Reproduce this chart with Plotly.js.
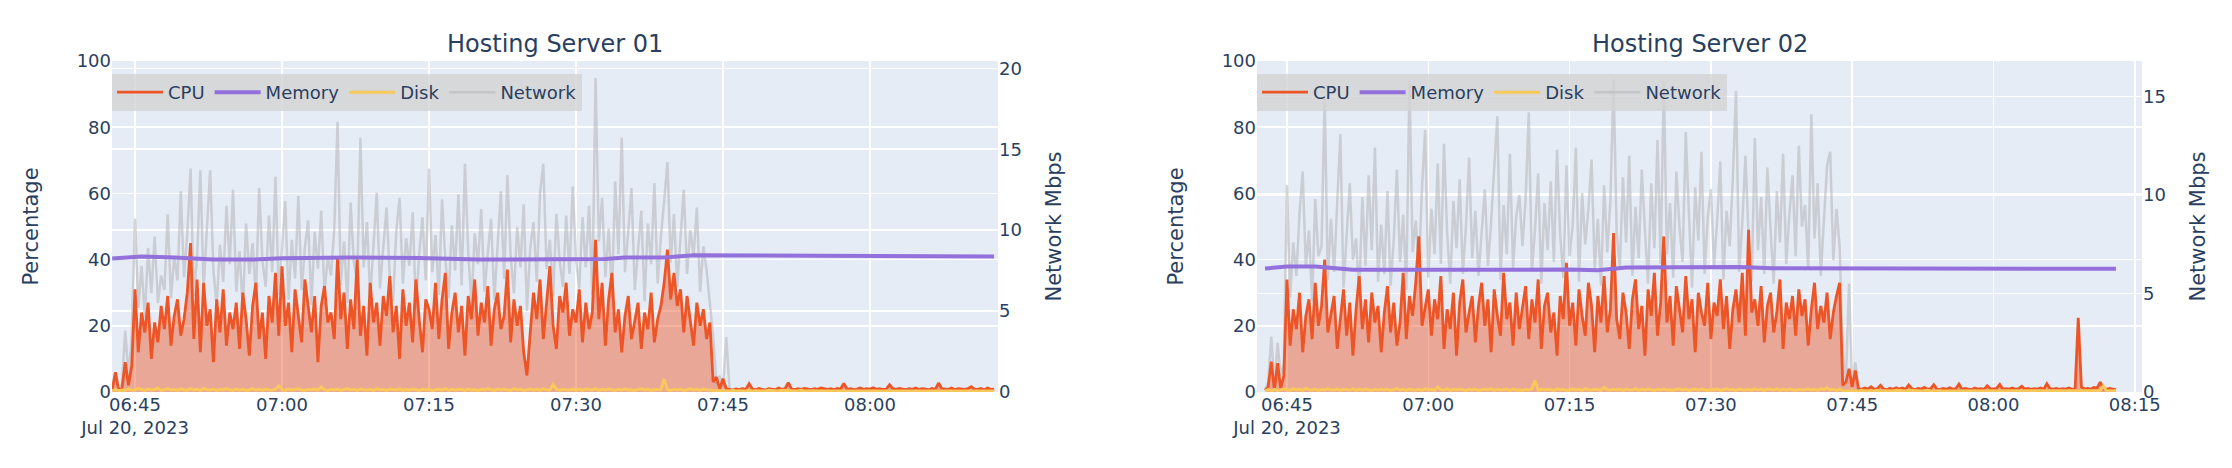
<!DOCTYPE html>
<html>
<head>
<meta charset="utf-8">
<script src="https://cdn.plot.ly/plotly-3.0.1.min.js"></script>
<style>html,body{margin:0;padding:0;background:#fff;}#chart{width:2232px;height:468px;}</style>
</head>
<body>
<div id="chart"></div>
<script>
// ---------------- DATA ----------------
// Samples every 20 s. Server 01 starts 06:42:40 and ends 08:12:40; Server 02 starts 06:42:40 and ends 08:13:00.
const day = "2023-07-20";
const startTime = "06:42:40";
const stepSeconds = 20;

// Server 01 CPU (%), one row = 5 minutes (first row 06:42:40-06:44:40)
const cpu1 = [
  0.5, 6, 0.5, 1, 9, 2, 8,
  31, 12, 24, 18, 27, 10, 21, 15, 26, 19, 29, 14, 23, 28, 17,
  22, 30, 45, 16, 34, 12, 33, 20, 25, 9, 28, 18, 31, 14, 24,
  19, 27, 13, 30, 22, 11, 26, 33, 16, 24, 10, 29, 21, 36, 17,
  38, 20, 27, 12, 31, 23, 15, 34, 25, 18, 29, 9, 26, 32, 21,
  24, 16, 41, 22, 30, 13, 28, 19, 40, 17, 26, 11, 33, 21, 27,
  14, 29, 23, 35, 18, 26, 10, 31, 20, 27, 15, 34, 22, 12, 28,
  25, 19, 33, 16, 28, 36, 13, 24, 30, 18, 26, 11, 29, 22, 34,
  17, 27, 21, 32, 14, 25, 30, 19, 23, 37, 15, 28, 20, 26, 12,
  5, 18, 30, 22, 34, 16, 26, 38, 20, 13, 29, 24, 33, 17, 25,
  21, 31, 15, 27, 19, 24, 46, 22, 33, 14, 28, 36, 18, 25, 12,
  23, 29, 16, 21, 27, 13, 24, 19, 30, 15, 22, 26, 33, 43, 28,
  36, 26, 31, 18, 29, 22, 14, 27, 20, 25, 16, 21, 3, 4.5, 1,
  4, 1, 0.8, 0.6, 0.9, 0.7, 1, 0.8, 2.5, 0.9, 0.7, 1.1, 0.8, 0.6, 1,
  0.9, 0.7, 1.2, 0.8, 1, 2.8, 0.9, 0.7, 1, 0.8, 1.1, 0.9, 0.7, 1, 0.8,
  1.2, 0.9, 0.8, 1, 0.7, 1.1, 0.9, 2.6, 0.8, 1, 0.7, 0.9, 1.2, 0.8, 1,
  0.9, 1.3, 0.8, 1, 0.7, 0.9, 2.2, 1, 0.8, 1.1, 0.9, 0.7, 1, 0.8, 1.2,
  0.8, 1, 0.9, 0.7, 1.1, 0.8, 2.7, 1, 0.9, 0.8, 1.2, 0.7, 1, 0.9, 0.8,
  1, 1.6, 0.9, 0.8, 1.1, 0.7, 1.2, 0.8, 0.9
];

// Server 01 Network (Mbps)
const net1 = [
  0.1, 1.2, 0.2, 0.5, 3.8, 1, 3.5,
  10.7, 5.2, 7.8, 4.6, 8.9, 6.1, 9.6, 5.5, 7.2, 6.3, 11.0, 5.8, 8.4, 6.9, 12.4,
  7.1, 9.8, 13.8, 5.9, 8.3, 13.7, 6.4, 10.2, 13.7, 7.5, 5.3, 9.1, 6.8, 11.5, 7.9,
  12.5, 6.2, 8.7, 5.1, 10.4, 7.3, 9.2, 5.8, 12.6, 8.1, 6.5, 10.9, 7.4, 13.3, 6.0,
  8.6, 11.8, 5.7, 9.4, 7.0, 12.1, 6.3, 8.9, 10.6, 5.4, 9.9, 7.6, 11.2, 6.1, 8.3,
  7.2, 10.1, 16.7, 6.6, 9.3, 5.5, 11.7, 8.0, 6.8, 15.7, 7.7, 10.5, 5.9, 9.0, 12.3,
  6.4, 8.8, 11.4, 7.1, 5.6, 10.0, 12.0, 6.7, 9.5, 7.8, 11.1, 5.2, 8.5, 10.8, 6.9,
  13.8, 7.4, 9.7, 6.0, 11.9, 8.2, 5.8, 10.3, 7.5, 12.2, 6.6, 14.1, 8.7, 5.4, 9.8,
  7.9, 11.3, 6.2, 8.6, 10.7, 5.7, 9.1, 12.4, 7.0, 13.4, 8.4, 6.1, 10.2, 7.7, 11.6,
  5.0, 8.9, 10.5, 6.8, 12.3, 14.1, 7.6, 9.4, 5.9, 11.0, 8.1, 6.5, 10.9, 7.3, 12.7,
  8.2, 6.4, 10.8, 7.7, 11.5, 6.0, 19.4, 9.3, 12.0, 7.1, 10.1, 5.8, 13.0, 8.5, 15.7,
  7.4, 9.9, 12.6, 6.3, 8.8, 11.2, 5.6, 10.4, 7.9, 12.9, 6.7, 9.6, 11.8, 14.2, 8.0,
  11.0, 6.5, 9.2, 12.5, 7.3, 10.0, 8.4, 11.4, 6.2, 9.0, 7.5, 5.4, 3.4, 0.5, 1.0,
  0.3, 3.4, 0.2, 0.1, 0.1, 0.05, 0.1, 0.05, 0.1, 0.05, 0.1, 0.05, 0.1, 0.05, 0.1,
  0.05, 0.1, 0.05, 0.1, 0.05, 0.1, 0.05, 0.1, 0.05, 0.1, 0.05, 0.1, 0.05, 0.1, 0.05,
  0.1, 0.05, 0.1, 0.05, 0.1, 0.05, 0.1, 0.05, 0.1, 0.05, 0.1, 0.05, 0.1, 0.05, 0.1,
  0.05, 0.1, 0.05, 0.1, 0.05, 0.1, 0.05, 0.1, 0.05, 0.1, 0.05, 0.1, 0.05, 0.1, 0.05,
  0.1, 0.05, 0.1, 0.05, 0.1, 0.05, 0.1, 0.05, 0.1, 0.05, 0.1, 0.05, 0.1, 0.05, 0.1,
  0.05, 0.1, 0.05, 0.1, 0.05, 0.1, 0.05, 0.1, 0.05
];

// Server 01 Disk (%)
const disk1 = [
  0.3, 0.8, 0.4, 0.6, 0.5, 0.9, 0.6,
  0.6, 1.1, 0.7, 0.5, 0.9, 0.6, 0.8, 1.2, 0.5, 0.7, 1.0, 0.6, 0.8, 0.5, 0.9,
  0.7, 0.5, 1.0, 0.6, 0.8, 0.5, 1.1, 0.7, 0.6, 0.9, 0.5, 0.8, 0.6, 1.0, 0.7,
  0.5, 0.9, 0.6, 0.8, 0.5, 0.7, 1.0, 0.6, 0.8, 0.5, 0.9, 0.7, 0.6, 0.8, 1.8,
  0.7, 0.5, 0.9, 0.6, 0.8, 1.0, 0.6, 0.5, 0.8, 0.7, 0.9, 0.6, 1.5, 0.7, 0.5,
  0.8, 0.6, 0.9, 0.5, 0.7, 1.0, 0.6, 0.8, 0.5, 0.9, 0.7, 0.6, 0.8, 0.5, 1.0,
  0.6, 0.8, 0.5, 0.9, 0.7, 0.6, 1.0, 0.5, 0.8, 0.6, 0.9, 0.7, 0.5, 0.8, 0.6,
  0.9, 0.5, 0.7, 0.8, 0.6, 1.0, 0.5, 0.9, 0.6, 0.7, 0.8, 0.5, 0.9, 0.6, 0.7,
  0.5, 0.8, 0.6, 1.0, 0.7, 0.5, 0.9, 0.6, 0.8, 0.7, 0.5, 1.0, 0.6, 0.8, 0.5,
  0.7, 0.9, 0.6, 0.8, 0.5, 1.0, 0.7, 0.6, 2.3, 0.8, 0.5, 0.9, 0.7, 0.6, 0.8,
  0.6, 0.8, 0.5, 0.9, 0.7, 0.6, 1.0, 0.5, 0.8, 0.6, 0.9, 0.7, 0.5, 0.8, 0.6,
  0.9, 0.6, 0.7, 0.5, 0.8, 1.0, 0.6, 0.9, 0.5, 0.7, 0.8, 0.6, 3.9, 0.7, 0.5,
  0.8, 0.6, 0.9, 0.5, 0.7, 1.0, 0.6, 0.8, 0.5, 0.9, 0.7, 0.6, 0.4, 0.3, 0.4,
  0.3, 0.4, 0.3, 0.5, 0.3, 0.4, 0.3, 0.3, 0.5, 0.3, 0.4, 0.3, 0.4, 0.3, 0.5,
  0.4, 0.3, 0.3, 0.5, 0.4, 0.3, 0.4, 0.3, 0.3, 0.5, 0.3, 0.4, 0.3, 0.4, 0.3,
  0.3, 0.5, 0.4, 0.3, 0.3, 0.4, 0.5, 0.3, 0.4, 0.3, 0.3, 0.5, 0.4, 0.3, 0.4,
  0.5, 0.3, 0.4, 0.3, 0.5, 0.3, 0.3, 0.4, 0.3, 0.5, 0.4, 0.3, 0.3, 0.4, 0.3,
  0.3, 0.4, 0.3, 0.5, 0.3, 0.4, 0.3, 0.3, 0.5, 0.4, 0.3, 0.4, 0.3, 0.5, 0.3,
  0.4, 0.3, 0.5, 0.3, 0.4, 0.3, 0.3, 0.4, 0.3
];

// Server 01 Memory (%), slowly varying, read at these times
const memTimes1 = ["06:42:40", "06:45:40", "06:49:00", "06:53:00", "06:57:00", "07:00:00", "07:07:00", "07:14:00",
                   "07:20:00", "07:28:00", "07:33:00", "07:35:00", "07:39:00", "07:42:00", "07:50:00", "07:55:00", "08:12:40"];
const mem1 = [40.3, 40.9, 40.6, 40.0, 40.0, 40.4, 40.6, 40.5, 40.0, 40.0, 40.2, 40.6, 40.6, 41.3, 41.2, 41.0, 40.9];

// Server 02 CPU (%)
const cpu2 = [
  0.5, 1.5, 9.2, 0.5, 8.7, 1, 5,
  34, 14, 25, 19, 30, 12, 23, 28, 16, 33, 20, 26, 40, 18, 24,
  29, 13, 22, 31, 17, 27, 11, 25, 35, 19, 28, 15, 30, 21, 26,
  12, 24, 32, 18, 27, 14, 21, 36, 16, 29, 23, 33, 47, 20, 26,
  31, 17, 28, 22, 35, 13, 25, 19, 30, 11, 27, 34, 18, 24, 29,
  15, 26, 33, 20, 28, 12, 31, 23, 17, 36, 22, 27, 14, 30, 19,
  25, 32, 16, 28, 21, 34, 13, 26, 30, 18, 24, 11, 29, 22, 39,
  20, 27, 14, 31, 23, 17, 33, 26, 12, 29, 21, 35, 18, 25, 48,
  22, 16, 30, 24, 13, 28, 34, 19, 26, 11, 31, 23, 36, 17, 27,
  47, 21, 29, 14, 32, 25, 18, 35, 22, 28, 12, 30, 24, 20, 33,
  16, 27, 23, 34, 19, 29, 13, 25, 31, 21, 36, 17, 49, 24, 28,
  20, 32, 15, 26, 30, 18, 24, 34, 13, 27, 22, 29, 17, 31, 23,
  28, 14, 25, 33, 19, 26, 21, 30, 16, 24, 29, 33, 2, 3, 7,
  1.5, 6.5, 1, 0.8, 1.2, 0.9, 1.6, 0.8, 1, 2, 0.9, 0.7, 1.1, 0.8, 1.3,
  0.9, 1.2, 0.8, 2.1, 1, 0.7, 1.1, 0.9, 1.4, 0.8, 1, 2.2, 0.9, 0.8, 1.1,
  0.8, 1.3, 0.9, 1, 2.4, 0.8, 1.1, 0.9, 0.7, 1.2, 0.9, 1, 0.8, 1.9, 1,
  0.9, 1.1, 2.3, 0.8, 1, 0.9, 1.2, 0.8, 1, 1.7, 0.9, 1.1, 0.8, 1, 0.9,
  1.2, 0.8, 2.5, 1, 0.9, 1.1, 0.8, 1, 0.9, 1.2, 0.8, 1.0, 22.4, 1.5, 0.9,
  1.1, 0.9, 1.4, 1.2, 3, 1, 0.8, 1.1, 0.9, 0.7
];

// Server 02 Network (Mbps)
const net2 = [
  0.1, 0.5, 2.8, 0.3, 2.5, 0.8, 1.5,
  10.5, 4.8, 7.6, 5.9, 9.1, 11.2, 6.3, 8.2, 4.6, 9.8, 6.9, 7.4, 15.0, 5.7, 8.8,
  6.1, 9.4, 13.1, 5.3, 8.0, 10.6, 6.7, 7.8, 4.9, 9.9, 6.4, 11.0, 7.2, 12.4, 5.6,
  8.5, 6.0, 10.2, 5.4, 7.7, 11.3, 6.6, 9.0, 5.2, 15.8, 7.1, 8.7, 6.2, 10.4, 13.3,
  5.8, 9.3, 7.0, 11.6, 6.5, 12.6, 8.1, 5.5, 9.7, 7.3, 10.8, 6.0, 8.4, 11.9, 6.8,
  9.2, 5.9, 7.9, 10.3, 6.4, 8.6, 11.4, 14.0, 5.7, 9.5, 7.0, 12.1, 6.3, 8.9, 10.0,
  7.4, 9.8, 14.2, 6.1, 8.3, 11.1, 5.5, 9.6, 7.2, 10.7, 6.6, 12.3, 8.0, 5.8, 11.5,
  6.9, 8.5, 12.4, 5.6, 10.1, 7.5, 9.3, 11.8, 6.2, 8.8, 5.4, 10.5, 7.1, 9.7, 15.9,
  8.1, 6.3, 10.9, 7.6, 12.0, 5.9, 9.4, 6.8, 11.3, 8.2, 5.5, 10.6, 7.3, 12.8, 6.5,
  15.8, 7.0, 9.6, 5.8, 11.2, 8.4, 6.6, 13.2, 9.1, 5.3, 10.4, 7.7, 12.2, 6.0, 8.9,
  10.3, 6.4, 8.7, 11.7, 5.7, 9.2, 7.4, 10.9, 15.3, 6.1, 8.6, 12.0, 7.9, 5.6, 12.9,
  7.2, 9.9, 6.0, 11.4, 8.3, 5.5, 10.2, 7.6, 12.1, 6.5, 9.0, 11.0, 6.9, 12.5, 8.4,
  9.5, 6.2, 14.1, 7.8, 10.6, 5.9, 8.8, 11.5, 12.2, 6.7, 9.3, 7.4, 2.0, 0.5, 5.5,
  0.3, 1.5, 0.2, 0.1, 0.1, 0.05, 0.1, 0.05, 0.1, 0.05, 0.1, 0.05, 0.1, 0.05, 0.1,
  0.05, 0.1, 0.05, 0.1, 0.05, 0.1, 0.05, 0.1, 0.05, 0.1, 0.05, 0.1, 0.05, 0.1, 0.05,
  0.1, 0.05, 0.1, 0.05, 0.1, 0.05, 0.1, 0.05, 0.1, 0.05, 0.1, 0.05, 0.1, 0.05, 0.1,
  0.05, 0.1, 0.05, 0.1, 0.05, 0.1, 0.05, 0.1, 0.05, 0.1, 0.05, 0.1, 0.05, 0.1, 0.05,
  0.1, 0.05, 0.1, 0.05, 0.1, 0.05, 0.1, 0.05, 0.1, 0.05, 0.1, 0.05, 0.1, 0.05, 0.1,
  0.05, 0.1, 0.05, 0.1, 0.05, 0.1, 0.05, 0.1, 0.05, 0.1
];

// Server 02 Disk (%)
const disk2 = [
  0.4, 0.7, 0.3, 0.8, 0.5, 0.6, 0.9,
  0.7, 0.5, 1.0, 0.6, 0.8, 0.5, 1.1, 0.7, 0.6, 0.9, 0.5, 0.8, 0.6, 1.0, 0.7,
  0.6, 0.9, 0.5, 0.8, 0.7, 0.6, 1.0, 0.5, 0.8, 0.6, 0.9, 0.7, 0.5, 0.8, 0.6,
  0.8, 0.6, 0.9, 0.5, 0.7, 1.0, 0.6, 0.8, 0.5, 0.9, 0.7, 0.6, 0.8, 0.5, 1.0,
  0.6, 0.8, 0.5, 1.5, 0.7, 0.6, 1.0, 0.5, 0.8, 0.6, 0.9, 0.7, 0.5, 0.8, 0.6,
  0.9, 0.5, 0.7, 0.8, 0.6, 1.0, 0.5, 0.9, 0.6, 0.7, 0.8, 0.5, 0.9, 0.6, 0.7,
  0.5, 0.8, 0.6, 1.0, 3.5, 0.5, 0.9, 0.6, 0.8, 0.7, 0.5, 1.0, 0.6, 0.8, 0.5,
  0.7, 0.9, 0.6, 0.8, 0.5, 1.0, 0.7, 0.6, 0.9, 0.8, 0.5, 1.4, 0.7, 0.6, 0.8,
  0.6, 0.8, 0.5, 0.9, 0.7, 0.6, 1.0, 0.5, 0.8, 0.6, 0.9, 0.7, 0.5, 0.8, 0.6,
  0.9, 0.6, 0.7, 0.5, 0.8, 1.0, 0.6, 0.9, 0.5, 0.7, 0.8, 0.6, 0.9, 0.7, 0.5,
  0.8, 0.6, 0.9, 0.5, 0.7, 1.0, 0.6, 0.8, 0.5, 0.9, 0.7, 0.6, 0.8, 0.5, 1.0,
  0.6, 0.8, 0.5, 0.9, 0.7, 0.6, 1.0, 0.5, 0.8, 0.6, 0.9, 0.7, 0.5, 0.8, 0.6,
  0.7, 0.9, 0.6, 0.8, 0.5, 1.0, 0.7, 1.3, 0.6, 0.8, 0.5, 0.9, 0.4, 0.3, 0.4,
  0.3, 0.4, 0.3, 0.5, 0.3, 0.4, 0.3, 0.3, 0.5, 0.3, 0.4, 0.3, 0.4, 0.3, 0.5,
  0.4, 0.3, 0.3, 0.5, 0.4, 0.3, 0.4, 0.3, 0.3, 0.5, 0.3, 0.4, 0.3, 0.4, 0.3,
  0.3, 0.5, 0.4, 0.3, 0.3, 0.4, 0.5, 0.3, 0.4, 0.3, 0.3, 0.5, 0.4, 0.3, 0.4,
  0.5, 0.3, 0.4, 0.3, 0.5, 0.3, 0.3, 0.4, 0.3, 0.5, 0.4, 0.3, 0.3, 0.4, 0.3,
  0.3, 0.4, 0.3, 0.5, 0.3, 0.4, 0.3, 0.3, 0.5, 0.4, 0.3, 0.4, 0.3, 0.5, 0.3,
  0.4, 0.3, 0.5, 0.3, 0.4, 1.8, 0.3, 0.4, 0.3, 0.5
];

// Server 02 Memory (%)
const memTimes2 = ["06:42:40", "06:45:00", "06:48:00", "06:52:00", "07:00:00", "07:08:00", "07:15:00", "07:18:00",
                   "07:21:00", "07:27:00", "07:33:00", "07:36:30", "07:50:00", "08:13:00"];
const mem2 = [37.3, 37.9, 37.9, 36.9, 36.9, 37.1, 37.0, 36.8, 37.6, 37.7, 37.8, 37.4, 37.3, 37.2];

const titles = ["Hosting Server 01", "Hosting Server 02"];
const seriesNames = ["CPU", "Memory", "Disk", "Network"];
const leftTitle = "Percentage";
const rightTitle = "Network Mbps";

// ---------------- helpers ----------------
function toSec(hms) { const p = hms.split(":").map(Number); return p[0] * 3600 + p[1] * 60 + (p[2] || 0); }
function pad(n) { return String(n).padStart(2, "0"); }
function stamp(sec) {
  const h = Math.floor(sec / 3600), m = Math.floor((sec % 3600) / 60), s = sec % 60;
  return day + " " + pad(h) + ":" + pad(m) + ":" + pad(s);
}
function sampleTimes(n) {
  const s0 = toSec(startTime); const out = [];
  for (let i = 0; i < n; i++) out.push(stamp(s0 + i * stepSeconds));
  return out;
}
function stamps(list) { return list.map(t => day + " " + t); }

const t1 = sampleTimes(cpu1.length);
const t2 = sampleTimes(cpu2.length);

// ---------------- styling ----------------
const FONT = "DejaVu Sans, Verdana, sans-serif";
const TXT = "#2a3f5f";
const C_CPU = "#ED5526";
const C_MEM = "#9370DB";
const C_DISK = "#F8C85A";
const C_NET = "rgba(182,182,186,0.58)";

const W = 2232, H = 468;
const M = { l: 112, r: 90, t: 61, b: 76 };
const plotW = W - M.l - M.r;
const plotH = H - M.t - M.b;
const dom1 = [0, 886 / plotW];
const dom2 = [(1257 - M.l) / plotW, 1];

function traces(times, cpu, net, disk, memT, mem, xa, yNet, yPct, leg) {
  return [
    { type: "scatter", mode: "lines", name: seriesNames[0] + " area", x: times, y: cpu, xaxis: xa, yaxis: yPct,
      line: { width: 0, color: C_CPU }, fill: "tozeroy", fillcolor: "rgba(237,85,38,0.45)",
      showlegend: false, hoverinfo: "skip" },
    { type: "scatter", mode: "lines", name: seriesNames[0], x: times, y: cpu, xaxis: xa, yaxis: yPct,
      line: { color: C_CPU, width: 2.8 }, legend: leg },
    { type: "scatter", mode: "lines", name: seriesNames[1], x: stamps(memT), y: mem, xaxis: xa, yaxis: yPct,
      line: { color: C_MEM, width: 4 }, legend: leg },
    { type: "scatter", mode: "lines", name: seriesNames[2], x: times, y: disk, xaxis: xa, yaxis: yPct,
      line: { color: C_DISK, width: 3 }, legend: leg },
    { type: "scatter", mode: "lines", name: seriesNames[3], x: times, y: net, xaxis: xa, yaxis: yNet,
      line: { color: C_NET, width: 2.5 }, legend: leg }
  ];
}

const data = [].concat(
  traces(t1, cpu1, net1, disk1, memTimes1, mem1, "x", "y", "y2", "legend"),
  traces(t2, cpu2, net2, disk2, memTimes2, mem2, "x2", "y3", "y4", "legend2")
);

const tickF = { family: FONT, size: 18, color: TXT };
const axTitleF = { family: FONT, size: 21, color: TXT };

function xAxis(dom, anchor, range) {
  return { domain: dom, anchor: anchor, type: "date", range: range, dtick: 15 * 60 * 1000,
    tick0: day + " 06:45:00", showgrid: true, gridcolor: "white", gridwidth: 1.5,
    zeroline: false, showline: false, ticks: "", tickfont: tickF };
}
function netAxis(anchor, range) {
  return { anchor: anchor, side: "right", range: range, dtick: 5, showgrid: true, gridcolor: "white",
    gridwidth: 1.5, zeroline: false, ticks: "", tickfont: tickF,
    title: { text: rightTitle, font: axTitleF } };
}
function pctAxis(anchor, over) {
  return { anchor: anchor, overlaying: over, side: "left", range: [0, 100], dtick: 20, showgrid: true,
    gridcolor: "white", gridwidth: 1.5, zeroline: false, ticks: "", tickfont: tickF,
    title: { text: leftTitle, font: axTitleF, standoff: 32 } };
}
function legendAt(x) {
  return { orientation: "h", x: x, xanchor: "left", y: (392 - 74) / plotH, yanchor: "top",
    itemwidth: 46, bgcolor: "rgba(211,211,211,0.8)", font: { family: FONT, size: 18, color: TXT } };
}

const layout = {
  width: W, height: H, margin: M,
  paper_bgcolor: "white", plot_bgcolor: "#E5ECF6",
  font: { family: FONT, color: TXT },
  showlegend: true,
  xaxis: xAxis(dom1, "y", [day + " 06:42:39", day + " 08:13:04"]),
  yaxis: netAxis("x", [0, 20.45]),
  yaxis2: pctAxis("x", "y"),
  xaxis2: xAxis(dom2, "y3", [day + " 06:41:49", day + " 08:15:46"]),
  yaxis3: netAxis("x2", [0, 16.81]),
  yaxis4: pctAxis("x2", "y3"),
  legend: legendAt(0),
  legend2: legendAt(dom2[0]),
  annotations: [
    { text: titles[0], xref: "paper", yref: "paper", x: (dom1[0] + dom1[1]) / 2, y: 1 + 17 / plotH,
      xanchor: "center", yanchor: "middle", showarrow: false, font: { family: FONT, size: 24, color: TXT } },
    { text: titles[1], xref: "paper", yref: "paper", x: (dom2[0] + dom2[1]) / 2, y: 1 + 17 / plotH,
      xanchor: "center", yanchor: "middle", showarrow: false, font: { family: FONT, size: 24, color: TXT } }
  ]
};

Plotly.newPlot("chart", data, layout, { displayModeBar: false, staticPlot: true });
</script>
</body>
</html>
